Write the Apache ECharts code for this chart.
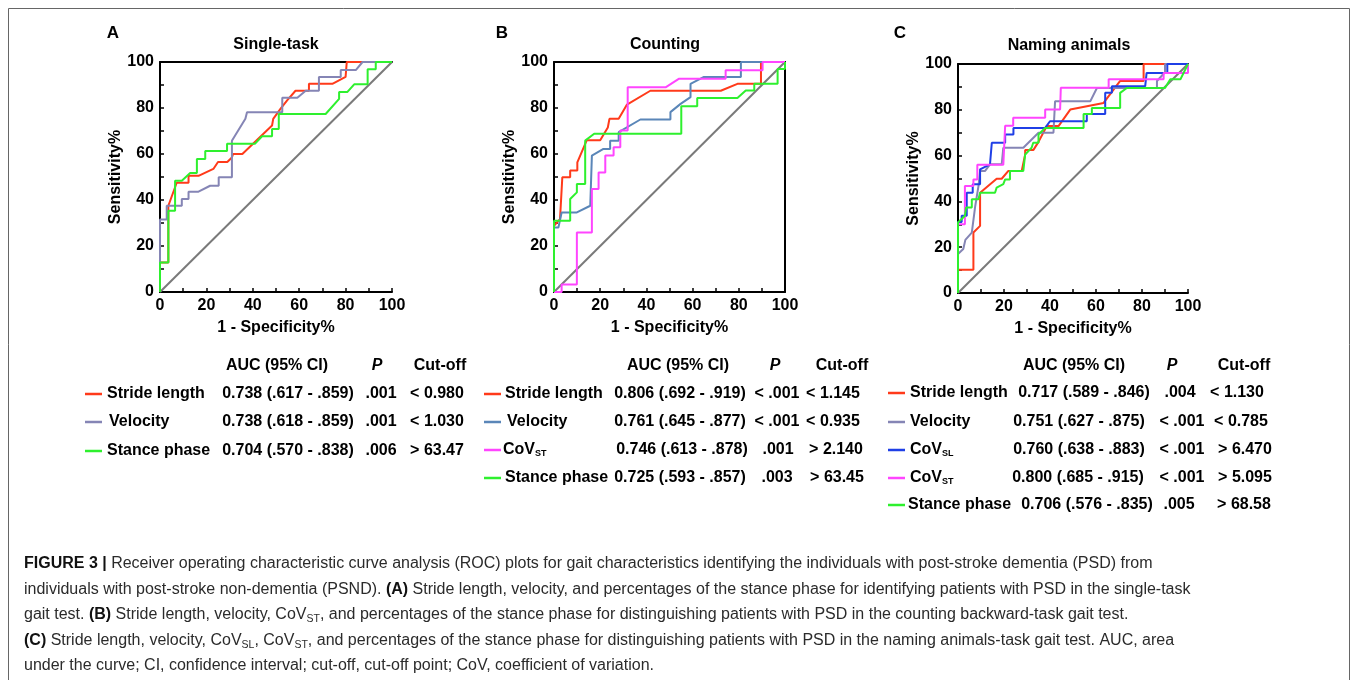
<!DOCTYPE html>
<html>
<head>
<meta charset="utf-8">
<script src="https://cdn.jsdelivr.net/npm/echarts@6/dist/echarts.min.js"></script>
<style>
  html,body{margin:0;padding:0;background:#fff;}
  #main{width:1357px;height:680px;}
</style>
</head>
<body>
<div id="main"></div>
<script>
// ROC curves, points are [1 - specificity %, sensitivity %]
var aStride = [[0,0],[0,12.8],[3.6,12.8],[3.6,37.5],[7.2,47.5],[12.3,47.5],[12.3,50.5],[16.6,50.5],[23,53.5],[25,56.5],[29,56.5],[31,58.5],[31.5,60],[35.5,60],[48.3,72.4],[48.8,75.3],[52,79.7],[54.8,83.3],[58.4,87.5],[64.2,87.5],[64.2,90.5],[74.3,90.5],[80,93.5],[80.5,93.5],[80.5,100],[100,100]]
var aVelocity = [[0,0],[0,31.5],[2.9,31.5],[2.9,37.5],[9.4,37.5],[9.4,40.4],[12.3,40.4],[12.3,43.6],[16.6,43.6],[21.6,46.2],[25.3,46.2],[25.3,49.9],[31,49.9],[31,65.8],[36.8,75.3],[37.5,78.2],[52.7,78.2],[52.7,84.5],[59.2,84.5],[62.8,87.5],[68.5,87.5],[68.5,93.5],[77.9,93.5],[77.9,96.5],[84.4,96.5],[87.3,100],[100,100]]
var aStance = [[0,0],[0,12.8],[3.6,12.8],[3.6,35.3],[6.5,35.3],[6.5,48.4],[9.4,48.4],[13,51.7],[15.9,51.7],[15.9,57.8],[19.5,57.8],[19.5,61.3],[28.9,61.3],[28.9,64.5],[41,64.5],[44,67.7],[48.3,67.7],[48.3,70.9],[51.2,70.9],[51.2,77.4],[71.4,77.4],[77.2,84],[77.2,87],[80.8,87],[83.7,90.3],[89.5,90.3],[89.5,96.8],[93,96.8],[93,100],[100,100]]

var bStride = [[0,0],[0,28.8],[2.6,31.7],[3.6,49.9],[7,49.9],[7,52.8],[10.1,52.8],[10.1,56.4],[14.2,66],[20,66],[23.3,71.5],[24,75.3],[28,75.3],[31.6,81.5],[41.7,87.5],[72.2,87.5],[79.4,90.5],[89.6,90.5],[89.6,100],[100,100]]
var bVelocity = [[0,0],[0,28],[1.9,28],[3.3,34.6],[9.9,34.6],[15.7,37.5],[16.4,59.3],[21.4,62.2],[24.3,62.2],[24.3,65.8],[28,65.8],[28,69.5],[37.4,75],[50.4,75],[50.4,78.2],[54.8,81.8],[59.1,84.7],[59.1,90.5],[64.9,93.5],[80.9,93.5],[80.9,100],[100,100]]
var bCovST = [[0,0],[3.3,0],[3.3,3.3],[9.9,3.3],[9.9,25.9],[16.4,25.9],[16.4,44.8],[19.3,44.8],[19.3,52],[22.2,52],[22.2,59.3],[25.8,59.3],[25.8,62.9],[28.7,62.9],[28.7,70.2],[31.9,70.2],[31.9,89],[48.3,89],[54,92.7],[74.3,92.7],[74.3,96.4],[90.3,96.4],[90.3,100],[100,100]]
var bStance = [[0,0],[0,31],[7,31],[7,40.4],[9.9,43.3],[9.9,47],[13.5,47],[13.5,65.8],[17.4,68.8],[55.1,68.8],[55.1,80.8],[62,80.8],[62,84.3],[79.4,84.3],[83,87.6],[86.7,87.6],[86.7,90.5],[96.8,90.5],[96.8,97],[100,97],[100,100]]

var cStride = [[0,0],[0,10.2],[6.7,10.2],[6.7,26.4],[9.6,29.3],[9.6,43.8],[16.8,49.9],[19,49.9],[21.9,53.3],[27.7,53.3],[29.2,60.5],[29.2,62.5],[32.8,62.5],[35,66],[38.6,72.9],[43.7,72.9],[48.8,80.1],[63.3,83],[70.5,92.6],[80.7,92.6],[80.7,100],[100,100]]
var cVelocity = [[0,0],[0,17],[2.3,19.2],[3.2,23.2],[6,26.4],[7.5,38],[8.9,46.7],[9.6,53.3],[11.8,53.3],[13.9,56.2],[19,56.2],[19.7,63.4],[28.4,63.4],[35,70],[41.5,70],[42.2,83.7],[57.5,83.7],[60.4,89.5],[86.5,89.5],[86.5,92.6],[90,96.4],[90,100],[100,100]]
var cCovSL = [[0,0],[0,31],[1.6,31],[1.6,33.7],[3.8,33.7],[3.8,43.8],[6.4,43.8],[6.4,47.5],[9.6,47.5],[9.6,54],[13.9,56.2],[14.7,65.6],[20.5,65.6],[20.5,69.2],[24.1,69.2],[24.1,72.1],[37.9,72.1],[40,75],[56,75],[56,78.2],[64,78.2],[64,87.4],[66.9,87.4],[66.9,90.3],[81.4,90.3],[82,96.1],[91,96.1],[91,100],[100,100]]
var cCovST = [[0,0],[0,30],[3,30],[3,46.7],[6.7,46.7],[6.7,49.6],[8.4,49.6],[8.4,56],[19.7,56],[20.5,73],[24,73],[24,76.5],[37.9,76.5],[37.9,80.1],[44.4,80.1],[44.7,89.6],[65.5,89.6],[65.5,93.3],[89.4,93.3],[89.4,96.1],[100,96.1],[100,100]]
var cStance = [[0,0],[0,30.8],[3,33.7],[3.5,37.3],[6,37.3],[6,40.9],[8.9,40.9],[9.6,43.8],[16.1,43.8],[16.8,46],[19.7,47.5],[20.5,49.6],[22.6,49.6],[22.6,53.3],[28.4,53.3],[29.2,60.5],[32,63.4],[32.7,65.6],[35,65.6],[35,69.2],[37.9,72.1],[54.6,72.1],[54.6,78.2],[58.2,78.2],[58.2,80.8],[70.5,80.8],[70.5,87.4],[73.4,89.5],[90,89.5],[92.3,93.3],[96.7,93.3],[100,100]]

var chance = [[0,0],[100,100]]

// legend tables
var aRows = ['Stride length','Velocity','Stance phase']
var aAuc = ['0.738 (.617 - .859)','0.738 (.618 - .859)','0.704 (.570 - .838)']
var aP = ['.001','.001','.006']
var aCut = ['< 0.980','< 1.030','> 63.47']

var bRows = ['Stride length','Velocity','CoV{s|ST}','Stance phase']
var bAuc = ['0.806 (.692 - .919)','0.761 (.645 - .877)','0.746 (.613 - .878)','0.725 (.593 - .857)']
var bP = ['< .001','< .001','.001','.003']
var bCut = ['< 1.145','< 0.935','> 2.140','> 63.45']

var cRows = ['Stride length','Velocity','CoV{s|SL}','CoV{s|ST}','Stance phase']
var cAuc = ['0.717 (.589 - .846)','0.751 (.627 - .875)','0.760 (.638 - .883)','0.800 (.685 - .915)','0.706 (.576 - .835)']
var cP = ['.004','< .001','< .001','< .001','.005']
var cCut = ['< 1.130','< 0.785','> 6.470','> 5.095','> 68.58']

var RED = '#ff3a1a', SLATE = '#8585b5', STEEL = '#5a86b8', BLUE = '#1f3fe6', PINK = '#ff45ff', GREEN = '#2ef02e', GREY = '#7a7a7a'
var FONT = 'Liberation Sans, Arial, sans-serif'

var chart = echarts.init(document.getElementById('main'))

function bottomX(gi){
	return {
		gridIndex: gi, type:'value', min:0, max:100, interval:10,
		axisLine:{show:true, onZero:false, lineStyle:{color:'#000', width:2}},
		axisTick:{show:true, inside:true, length:4, lineStyle:{color:'#000', width:1.5}},
		splitLine:{show:false},
		axisLabel:{margin:6, color:'#000', fontWeight:'bold', fontSize:16, fontFamily:FONT,
			formatter:function(v){ return v % 20 === 0 ? v : '' }},
		name:'1 - Specificity%', nameLocation:'middle', nameGap:28,
		nameTextStyle:{color:'#000', fontWeight:'bold', fontSize:16, fontFamily:FONT}
	}
}
function topX(gi){
	return {
		gridIndex: gi, type:'value', min:0, max:100, position:'top',
		axisLine:{show:true, onZero:false, lineStyle:{color:'#000', width:2}},
		axisTick:{show:false}, axisLabel:{show:false}, splitLine:{show:false}
	}
}
function leftY(gi){
	return {
		gridIndex: gi, type:'value', min:0, max:100, interval:10,
		axisLine:{show:true, onZero:false, lineStyle:{color:'#000', width:2}},
		axisTick:{show:true, inside:true, length:4, lineStyle:{color:'#000', width:1.5}},
		splitLine:{show:false},
		axisLabel:{margin:6, color:'#000', fontWeight:'bold', fontSize:16, fontFamily:FONT,
			formatter:function(v){ return v % 20 === 0 ? v : '' }},
		name:'Sensitivity%', nameLocation:'middle', nameGap:32, nameRotate:90,
		nameTextStyle:{color:'#000', fontWeight:'bold', fontSize:16, fontFamily:FONT}
	}
}
function rightY(gi){
	return {
		gridIndex: gi, type:'value', min:0, max:100, position:'right',
		axisLine:{show:true, onZero:false, lineStyle:{color:'#000', width:2}},
		axisTick:{show:false}, axisLabel:{show:false}, splitLine:{show:false}
	}
}
function roc(data, color, xi, yi){
	return {
		type:'line', data:data, xAxisIndex:xi, yAxisIndex:yi,
		showSymbol:false, symbol:'none', smooth:false, silent:true,
		lineStyle:{color:color, width:2}, itemStyle:{color:color}
	}
}

// legend table as graphic texts
var graphics = []
function txt(x, y, s, align, extra){
	var st = {
		text:s, x:x, y:y, fill:'#000', font:'bold 16px ' + FONT,
		textAlign:align, textVerticalAlign:'middle',
		rich:{
			s:{fontSize:9, fontWeight:'bold', fontFamily:FONT, lineHeight:6, verticalAlign:'bottom'}
		}
	}
	if(extra){ for(var k in extra){ st[k] = extra[k] } }
	graphics.push({type:'text', style:st})
}
function table(o){
	txt(o.hAuc, 366, 'AUC (95% CI)', 'center')
	txt(o.hP, 366, 'P', 'center', {font:'italic bold 16px ' + FONT})
	txt(o.hCut, 366, 'Cut-off', 'center')
	for(var i=0;i<o.rows.length;i++){
		var y = o.ys[i]
		graphics.push({type:'line', shape:{x1:o.lx, y1:y, x2:o.lx+17, y2:y}, style:{stroke:o.colors[i], lineWidth:2.5}})
		txt(o.labX[i], y, o.rows[i], 'left')
		txt(o.aucX[i], y, o.auc[i], 'center')
		txt(o.pX[i], y, o.p[i], 'center')
		txt(o.cutX[i], y, o.cut[i], 'center')
	}
}
table({hAuc:277, hP:377, hCut:440, lx:85, ys:[394,422,451],
	rows:aRows, auc:aAuc, p:aP, cut:aCut, colors:[RED,SLATE,GREEN],
	labX:[107,109,107], aucX:[288,288,288], pX:[381,381,381], cutX:[437,437,437]})
table({hAuc:678, hP:775, hCut:842, lx:484, ys:[394,422,450,478],
	rows:bRows, auc:bAuc, p:bP, cut:bCut, colors:[RED,STEEL,PINK,GREEN],
	labX:[505,507,503,505], aucX:[680,680,682,680], pX:[777,777,778,777], cutX:[833,833,836,837]})
table({hAuc:1074, hP:1172, hCut:1244, lx:888, ys:[393,422,450,478,505],
	rows:cRows, auc:cAuc, p:cP, cut:cCut, colors:[RED,SLATE,BLUE,PINK,GREEN],
	labX:[910,910,910,910,908], aucX:[1084,1079,1079,1078,1087], pX:[1180,1182,1182,1182,1179], cutX:[1237,1241,1245,1245,1244]})

// panel letters and titles
var letters = [['A',113],['B',502],['C',900]]
letters.forEach(function(l){ txt(l[1], 33, l[0], 'center', {font:'bold 17px ' + FONT}) })
txt(276, 45, 'Single-task', 'center')
txt(665, 45, 'Counting', 'center')
txt(1069, 46, 'Naming animals', 'center')

// caption
var CAP = 'Liberation Sans Narrow, Liberation Sans, Arial, sans-serif'
var capLines = [
	'{b|FIGURE 3 |} Receiver operating characteristic curve analysis (ROC) plots for gait characteristics identifying the individuals with post-stroke dementia (PSD) from',
	'individuals with post-stroke non-dementia (PSND). {b|(A)} Stride length, velocity, and percentages of the stance phase for identifying patients with PSD in the single-task',
	'gait test. {b|(B)} Stride length, velocity, CoV{s|ST}, and percentages of the stance phase for distinguishing patients with PSD in the counting backward-task gait test.',
	'{b|(C)} Stride length, velocity, CoV{s|SL}, CoV{s|ST}, and percentages of the stance phase for distinguishing patients with PSD in the naming animals-task gait test. AUC, area',
	'under the curve; CI, confidence interval; cut-off, cut-off point; CoV, coefficient of variation.'
]
var capY = [564, 590, 615, 641, 666]
capLines.forEach(function(s, i){
	graphics.push({type:'text', style:{
		text:s, x:24, y:capY[i], fill:'#2b2b2b', font:'16px ' + CAP,
		textAlign:'left', textVerticalAlign:'middle',
		rich:{
			b:{fontWeight:'bold', fontSize:16, fontFamily:CAP, fill:'#111', lineHeight:20},
			s:{fontSize:10.5, fontFamily:CAP, lineHeight:8, verticalAlign:'bottom'}
		}
	}})
})
graphics.push({type:'rect', shape:{x:8.5, y:8.5, width:1341, height:700}, style:{fill:'none', stroke:'#666', lineWidth:1}})

var option = {
	animation:false,
	backgroundColor:'#fff',
	textStyle:{fontFamily:FONT},
	grid:[
		{left:160, top:62, width:232, height:230},
		{left:554, top:62, width:231, height:230},
		{left:958, top:64, width:230, height:229}
	],
	xAxis:[bottomX(0), topX(0), bottomX(1), topX(1), bottomX(2), topX(2)],
	yAxis:[leftY(0), leftY(1), rightY(1), leftY(2)],
	series:[
		roc(chance, GREY, 0, 0),
		roc(aStride, RED, 0, 0),
		roc(aVelocity, SLATE, 0, 0),
		roc(aStance, GREEN, 0, 0),
		roc(chance, GREY, 2, 1),
		roc(bStride, RED, 2, 1),
		roc(bVelocity, STEEL, 2, 1),
		roc(bCovST, PINK, 2, 1),
		roc(bStance, GREEN, 2, 1),
		roc(chance, GREY, 4, 3),
		roc(cStride, RED, 4, 3),
		roc(cVelocity, SLATE, 4, 3),
		roc(cCovSL, BLUE, 4, 3),
		roc(cCovST, PINK, 4, 3),
		roc(cStance, GREEN, 4, 3)
	],
	graphic:graphics
}
chart.setOption(option)
</script>
</body>
</html>
